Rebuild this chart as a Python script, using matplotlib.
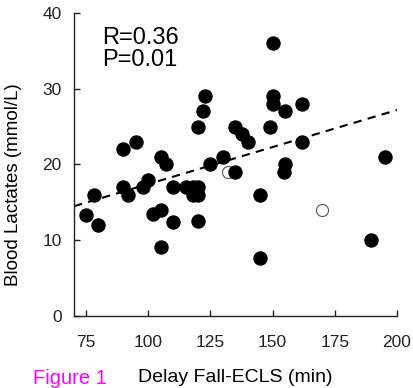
import matplotlib
matplotlib.use("Agg")
import matplotlib.pyplot as plt
import numpy as np

plt.rcParams["font.family"] = ["Liberation Sans", "DejaVu Sans"]

# filled points: delay (min) vs blood lactates (mmol/L)
delay = [75, 78, 80, 90, 95, 90, 92, 98, 100, 105, 107, 102, 105, 110, 105,
         110, 115, 118, 120, 118, 120, 120, 120, 122, 123, 125, 130, 135, 135,
         137.5, 140, 145, 145, 149, 150, 150, 150, 155, 155, 154.5, 162, 162,
         189.5, 195]
lactate = [13.3, 16, 12, 22, 23, 17, 16, 17, 18, 21, 20, 13.5, 14, 12.4, 9.1,
           17, 17, 17, 17, 16, 16, 12.5, 25, 27, 29, 20, 21, 19, 25,
           24, 23, 16, 7.6, 25, 36, 29, 28, 27, 20, 19, 28, 23,
           10, 21]

# open points
delay_open = [132, 170]
lactate_open = [19, 14]

# regression line
slope = 0.0978
intercept = 7.63

fig = plt.figure(figsize=(4.14, 3.88), dpi=100)
ax = fig.add_axes([0.179, 0.1856, 0.78, 0.781])

xs = np.array([70.2, 200])
ax.plot(xs, slope * xs + intercept, color="black", lw=1.5, ls=(0, (4, 3)), zorder=1)
ax.scatter(delay, lactate, s=88, color="black", zorder=3)
ax.scatter(delay_open, lactate_open, s=75, facecolor="white", edgecolor="#555555",
           linewidth=0.8, zorder=2)

ax.set_xlim(70.2, 200)
ax.set_ylim(0, 40)
ax.set_xticks([75, 100, 125, 150, 175, 200])
ax.set_yticks([0, 10, 20, 30, 40])
ax.spines["top"].set_visible(False)
ax.spines["right"].set_visible(False)
for s in ["left", "bottom"]:
    ax.spines[s].set_linewidth(1.0)
    ax.spines[s].set_color("#222222")
ax.tick_params(direction="in", length=4, width=1.0, labelsize=12.5, colors="#222222")
ax.tick_params(axis="x", pad=14)
ax.tick_params(axis="y", pad=9)

ax.set_ylabel("Blood Lactates (mmol/L)", fontsize=13.5)
ax.yaxis.set_label_coords(-0.16, 0.435)
fig.text(0.568, 0.028, "Delay Fall-ECLS (min)", fontsize=14, ha="center", va="center")
fig.text(0.08, 0.025, "Figure 1", fontsize=14.5, color="magenta", ha="left", va="center")

ax.text(0.087, 0.955, "R=0.36\nP=0.01", transform=ax.transAxes, fontsize=17,
        va="top", ha="left", linespacing=1.0)

fig.savefig("out.png", dpi=100)
